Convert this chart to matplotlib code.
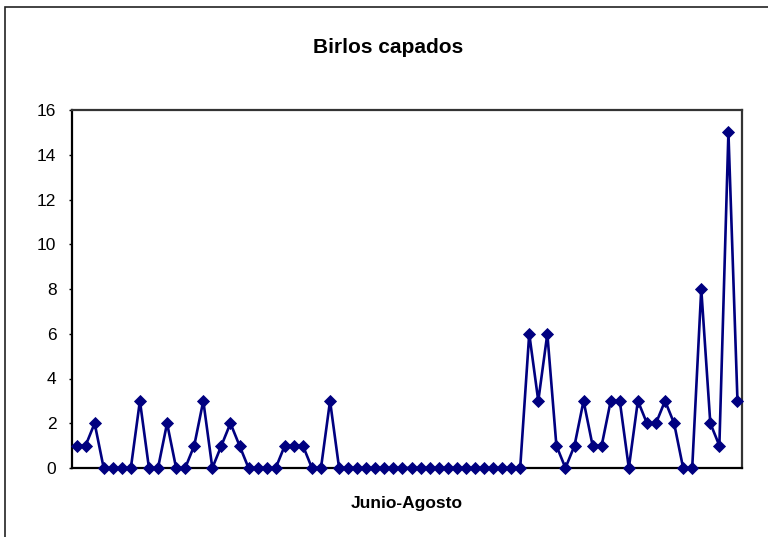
import matplotlib
matplotlib.use("Agg")
import matplotlib.pyplot as plt
from matplotlib.patches import Rectangle

plt.rcParams['font.family'] = ['Liberation Sans', 'DejaVu Sans']

title = "Birlos capados"
x_label = "Junio-Agosto"

# Daily counts, June to August
counts = [
    1, 1, 2, 0, 0, 0, 0, 3, 0, 0,
    2, 0, 0, 1, 3, 0, 1, 2, 1, 0,
    0, 0, 0, 1, 1, 1, 0, 0, 3, 0,
    0, 0, 0, 0, 0, 0, 0, 0, 0, 0,
    0, 0, 0, 0, 0, 0, 0, 0, 0, 0,
    6, 3, 6, 1, 0, 1, 3, 1, 1, 3,
    3, 0, 3, 2, 2, 3, 2, 0, 0, 8,
    2, 1, 15, 3,
]
y_ticks = [0, 2, 4, 6, 8, 10, 12, 14, 16]

W, H = 768, 537
fig = plt.figure(figsize=(W / 100, H / 100), dpi=100)
fig.patch.set_facecolor('white')

# outer chart border (left and top edges fall inside the canvas)
fig.patches.append(Rectangle((5 / W, -0.05), 1.2, 1 - 7 / H + 0.05,
                             transform=fig.transFigure, fill=False,
                             edgecolor='#222222', linewidth=1.2))

left, right = 72 / W, 742 / W
bottom, top = 1 - 468 / H, 1 - 110 / H
ax = fig.add_axes([left, bottom, right - left, top - bottom])

xs = list(range(len(counts)))
ax.plot(xs, counts, color='#000080', linewidth=1.9,
        marker='D', markersize=6.0, markerfacecolor='#000080',
        markeredgecolor='#000080', markeredgewidth=0.6, clip_on=False,
        zorder=3)

ax.set_xlim(-0.5, len(counts) - 0.5)
ax.set_ylim(0, 16)
ax.set_yticks(y_ticks)
ax.set_xticks([])
ax.tick_params(axis='y', direction='out', length=2.2, width=1.0,
               pad=9, labelsize=12.5, colors='black')

for side in ('left', 'bottom'):
    ax.spines[side].set_color('black')
    ax.spines[side].set_linewidth(1.6)
for side in ('top', 'right'):
    ax.spines[side].set_color('#333333')
    ax.spines[side].set_linewidth(1.6)

fig.text(388 / W, 1 - 53 / H, title, ha='center', va='baseline',
         fontsize=15, fontweight='bold')
fig.text(407 / W, 1 - 508 / H, x_label, ha='center', va='baseline',
         fontsize=12.5, fontweight='bold')

fig.savefig('out.png', dpi=100, facecolor='white')
